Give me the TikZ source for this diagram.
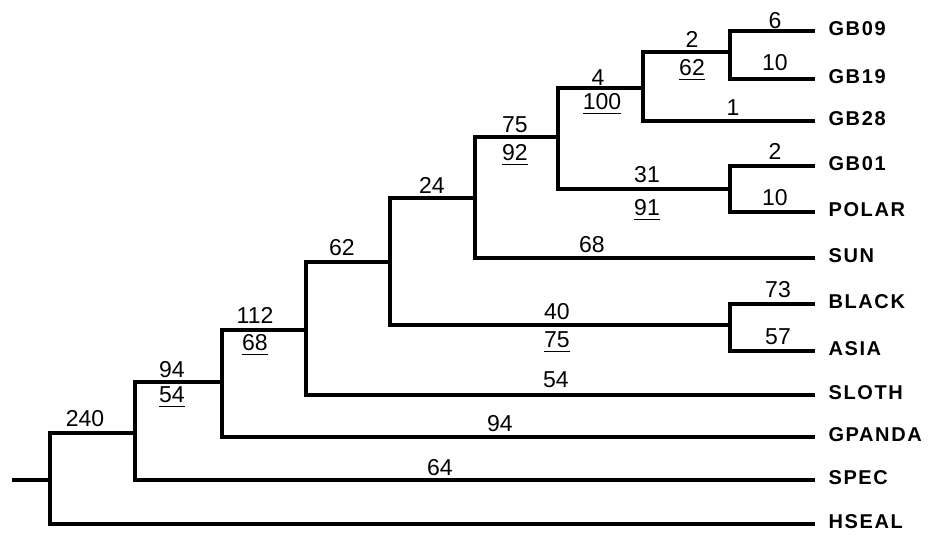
\documentclass[tikz,border=0pt]{standalone}
\usepackage{fontspec}
\setmainfont{Liberation Sans}
\newfontfamily\taxfont[LetterSpace=8]{Liberation Sans}
\usetikzlibrary{positioning}

\begin{document}
\begin{tikzpicture}[x=0.5pt,y=-0.5pt,line width=1.6pt,line join=miter,
  num/.style={font=\fontsize{11.5}{11.5}\selectfont,anchor=base,inner sep=0pt},
  taxon/.style={font=\taxfont\bfseries\fontsize{10}{10}\selectfont,anchor=west,
    inner xsep=6pt,inner ysep=0pt,text height=7.2pt,text depth=2.5pt}]
  \useasboundingbox (0,0) rectangle (928,539);

  % Internal nodes
  \coordinate (base) at (12,480);
  \coordinate (r) at (50,480);
  \coordinate (n240) at (135,433);
  \coordinate (n94) at (222,382);
  \coordinate (n112) at (306,330);
  \coordinate (n62) at (390,262);
  \coordinate (n24) at (475,198);
  \coordinate (n75) at (558,137);
  \coordinate (n4) at (643,88);
  \coordinate (n2) at (730,52);
  \coordinate (n31) at (730,189);
  \coordinate (n40) at (730,325);

  % Taxa
  \node[taxon] (GB09) at (815,31) {GB09};
  \node[taxon] (GB19) at (815,79) {GB19};
  \node[taxon] (GB28) at (815,121) {GB28};
  \node[taxon] (GB01) at (815,166) {GB01};
  \node[taxon] (POLAR) at (815,212) {POLAR};
  \node[taxon] (SUN) at (815,258) {SUN};
  \node[taxon] (BLACK) at (815,304) {BLACK};
  \node[taxon] (ASIA) at (815,351) {ASIA};
  \node[taxon] (SLOTH) at (815,395) {SLOTH};
  \node[taxon] (GPANDA) at (815,437) {GPANDA};
  \node[taxon] (SPEC) at (815,480) {SPEC};
  \node[taxon] (HSEAL) at (815,524) {HSEAL};

  % Branches
  \draw (base) -- (r);
  \draw (r) |- (n240);  \draw (r) |- (HSEAL);
  \draw (n240) |- (n94);  \draw (n240) |- (SPEC);
  \draw (n94) |- (n112);  \draw (n94) |- (GPANDA);
  \draw (n112) |- (n62);  \draw (n112) |- (SLOTH);
  \draw (n62) |- (n24);  \draw (n62) |- (n40);
  \draw (n24) |- (n75);  \draw (n24) |- (SUN);
  \draw (n75) |- (n4);  \draw (n75) |- (n31);
  \draw (n4) |- (n2);  \draw (n4) |- (GB28);
  \draw (n2) |- (GB09);  \draw (n2) |- (GB19);
  \draw (n31) |- (GB01);  \draw (n31) |- (POLAR);
  \draw (n40) |- (BLACK);  \draw (n40) |- (ASIA);

  % Branch lengths and bootstrap values
  \node[num] (lGB09) at (775,29) {6};
  \node[num] (lGB19) at (775,71) {10};
  \node[num] (lGB28) at (733,116) {1};
  \node[num] (ln2) at (692,48) {2};
  \node[num] (bn2) at (692,76) {\underline{62}};
  \node[num] (ln4) at (598,86) {4};
  \node[num] (bn4) at (602,110) {\underline{100}};
  \node[num] (lGB01) at (775,160) {2};
  \node[num] (lPOLAR) at (775,206) {10};
  \node[num] (ln31) at (647,183) {31};
  \node[num] (bn31) at (647,216) {\underline{91}};
  \node[num] (ln75) at (515,133) {75};
  \node[num] (bn75) at (515,161) {\underline{92}};
  \node[num] (lSUN) at (592,253) {68};
  \node[num] (ln24) at (432,194) {24};
  \node[num] (ln62) at (342,256) {62};
  \node[num] (ln40) at (557,320) {40};
  \node[num] (bn40) at (557,348) {\underline{75}};
  \node[num] (lBLACK) at (778,298) {73};
  \node[num] (lASIA) at (778,345) {57};
  \node[num] (lSLOTH) at (556,388) {54};
  \node[num] (ln112) at (255,324) {112};
  \node[num] (bn112) at (255,351) {\underline{68}};
  \node[num] (lGPANDA) at (500,432) {94};
  \node[num] (ln94) at (172,378) {94};
  \node[num] (bn94) at (172,403) {\underline{54}};
  \node[num] (lSPEC) at (440,476) {64};
  \node[num] (ln240) at (85,427) {240};
\end{tikzpicture}
\end{document}
